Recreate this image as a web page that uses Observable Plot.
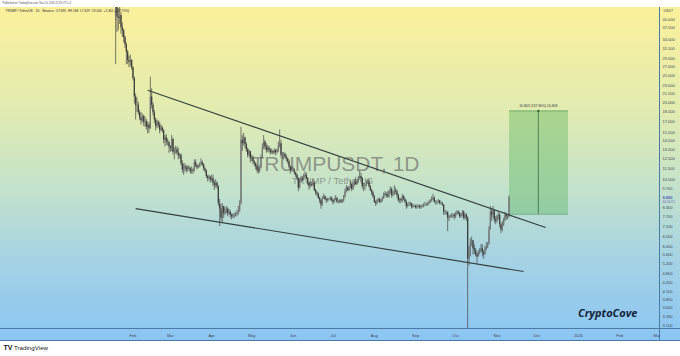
<!DOCTYPE html>
<html><head><meta charset="utf-8">
<script src="https://cdn.jsdelivr.net/npm/d3@7"></script>
<script src="https://cdn.jsdelivr.net/npm/@observablehq/plot@0.6"></script>
<style>
html,body{margin:0;padding:0;background:#fff;}
#chart svg{display:block;}
</style></head><body><div id="chart"></div>
<script>
// Daily TRUMP/USDT candles, first candle 2025-01-19; open = previous close
const startDate = "2025-01-19";
const firstOpen = 40;
const close = [
 52,41,40.5,41.5,37.5,36.5,34.5,32.5,30.5,28.5,28.0,28.5,26.8,
 24.5,21.0,19.5,19.6,18.4,17.6,17.2,17.8,17.0,17.1,16.3,16.6,16.1,21.0,19.6,18.4,17.3,16.4,16.9,16.6,15.9,16.2,15.8,14.6,14.9,14.4,14.3,13.8,
 13.6,14.7,13.2,13.4,13.5,13.1,12.8,12.9,12.0,11.4,11.7,11.6,11.4,11.6,11.5,11.2,11.4,11.3,12.1,11.8,11.6,11.7,11.9,12.1,11.9,11.5,11.3,10.8,10.6,10.7,10.5,
 10.6,10.2,10.0,10.2,9.9,8.6,8.2,7.6,8.4,7.9,8.1,8.2,7.9,8.0,7.8,7.7,7.8,7.8,7.9,7.9,8.1,8.6,14.6,14.2,14.9,14.1,13.5,12.9,13.3,12.5,
 12.6,12.2,12.0,11.7,11.4,11.3,11.6,12.6,13.6,14.4,13.8,13.4,13.7,13.4,13.2,13.3,13.1,13.4,13.2,13.3,13.9,14.2,12.9,12.8,13.0,12.7,12.5,12.2,11.7,11.3,11.5,
 11.4,11.1,10.9,10.6,9.8,10.3,10.6,10.5,10.8,10.9,10.6,10.2,9.9,10.1,10.0,10.2,9.6,9.4,9.3,9.0,8.8,8.5,9.0,9.1,8.9,8.8,8.9,8.9,9.0,8.8,
 8.7,8.9,9.0,8.7,8.7,8.8,8.7,8.8,9.1,9.5,9.8,9.6,9.8,10.1,9.7,10.0,10.3,10.1,10.3,10.6,10.8,10.6,9.9,9.9,10.0,10.2,10.3,9.9,9.6,9.4,9.1,
 8.7,8.6,8.8,8.9,8.7,8.8,9.0,9.2,9.3,9.2,9.1,9.5,9.7,9.2,9.3,9.6,9.5,9.2,8.8,8.9,8.8,9.1,8.9,8.7,8.4,8.5,8.5,8.6,8.3,8.4,8.4,
 8.3,8.4,8.4,8.3,8.4,8.4,8.5,8.5,8.5,8.6,8.7,8.8,8.9,9.0,8.7,8.7,8.7,8.8,8.6,8.6,8.5,8.0,8.0,8.0,7.6,7.7,7.7,7.8,7.8,7.7,
 7.9,8.0,7.9,7.7,7.8,8.0,7.6,7.8,7.6,5.4,5.7,6.2,6.3,5.9,5.8,5.6,5.5,5.7,5.8,5.9,5.7,5.6,5.9,6.0,6.1,6.9,8.0,7.8,8.1,7.5,7.4,
 7.7,7.8,7.2,6.9,7.2,7.5,7.8,7.7,7.695,9.05
];
const high = [
 73.4,55,44,44.5,42.5,39,37,35,33,31,29.5,29.8,28.7,
 27.0,24.8,21.5,20.8,20.1,18.8,18.4,18.2,18.0,17.8,17.4,17.0,16.9,24.8,22.5,20.0,18.8,17.6,17.3,17.2,17.0,16.6,16.4,16.0,15.2,15.3,14.8,14.5,
 14.0,15.2,14.9,13.7,13.9,13.8,13.7,13.1,13.0,12.3,12.0,12.0,11.8,11.8,11.8,11.6,11.7,11.5,12.4,12.4,11.9,11.9,12.1,12.5,12.3,12.0,11.6,11.4,10.9,10.9,10.8,
 10.9,10.9,10.4,10.5,10.3,10.0,8.9,8.5,8.6,8.4,8.3,8.4,8.3,8.2,8.1,7.9,7.9,7.9,8.0,8.1,8.4,8.8,16.3,15.2,15.5,15.0,14.3,13.7,13.5,13.3,
 12.9,12.8,12.3,12.1,11.9,11.6,11.8,12.9,14.2,15.2,14.6,14.2,14.0,13.9,13.6,13.6,13.4,13.6,13.5,13.6,14.4,15.9,14.6,13.2,13.2,13.1,12.9,12.6,12.4,11.8,11.7,
 11.7,11.5,11.2,11.0,10.7,10.5,10.8,10.8,11.0,11.2,11.1,10.7,10.3,10.3,10.3,10.5,10.3,9.7,9.5,9.4,9.1,8.9,9.1,9.3,9.2,9.0,9.0,9.0,9.1,9.1,
 8.9,9.0,9.2,9.0,8.8,8.9,8.9,8.9,9.2,9.7,10.0,9.9,9.9,10.4,10.2,10.2,10.5,10.7,10.5,10.8,11.3,11.1,10.7,10.2,10.1,10.4,10.5,10.5,10.0,9.7,9.5,
 9.2,8.8,8.9,9.0,9.0,8.9,9.1,9.4,9.5,9.4,9.5,9.6,9.9,9.8,9.5,10.0,9.8,9.6,9.3,9.0,9.0,9.3,9.2,9.0,8.8,8.6,8.7,8.7,8.6,8.5,8.5,
 8.5,8.5,8.5,8.5,8.5,8.5,8.6,8.7,8.6,8.7,8.8,8.9,9.1,9.3,9.1,8.8,8.8,8.9,8.8,8.7,8.7,8.5,8.1,8.1,8.0,7.8,7.8,7.9,7.9,7.9,
 8.0,8.1,8.1,8.0,7.9,8.1,8.1,7.9,7.9,7.7,6.0,6.4,6.5,6.3,6.1,5.9,5.7,5.8,5.9,6.1,6.1,5.8,6.0,6.2,6.2,7.1,8.4,8.2,8.4,8.1,7.7,
 7.8,8.0,7.9,7.3,7.4,7.6,8.0,7.9,7.8,9.168
];
const low = [
 27.5,36,36.5,38.5,35.5,34.5,33,31.5,27.5,27.5,26.8,27.0,26.2,
 24.0,19.8,17.3,18.4,18.0,17.2,16.6,16.9,16.4,16.3,15.9,15.4,15.5,16.0,19.0,17.9,16.8,15.8,16.1,16.2,15.4,15.7,15.5,14.2,13.8,14.0,13.9,13.1,
 13.2,13.3,12.9,12.4,13.0,12.9,12.4,12.5,11.8,11.1,10.9,11.2,11.1,11.2,11.3,11.0,11.0,11.0,11.2,11.6,11.4,11.5,11.6,11.8,11.7,11.3,11.1,10.6,10.3,10.4,10.2,
 10.3,9.9,9.6,9.8,9.7,8.4,7.1,7.4,7.3,7.6,7.8,7.9,7.7,7.8,7.6,7.5,7.6,7.6,7.7,7.7,7.8,8.0,8.5,13.3,13.9,13.6,13.2,12.6,12.7,12.1,
 12.2,11.9,11.7,11.4,11.1,11.0,11.1,11.5,12.5,13.5,13.5,13.1,13.2,13.1,12.9,13.0,12.9,13.0,12.8,13.0,13.2,13.7,12.6,12.5,12.4,12.5,12.2,12.0,11.5,11.0,11.2,
 11.2,10.9,10.7,10.4,9.5,9.7,10.2,10.3,10.4,10.6,10.5,10.0,9.6,9.8,9.9,9.9,9.5,9.2,9.1,8.9,8.6,8.2,8.4,8.9,8.8,8.6,8.7,8.8,8.8,8.7,
 8.5,8.6,8.8,8.6,8.6,8.6,8.6,8.6,8.7,9.0,9.4,9.5,9.5,9.7,9.5,9.6,9.9,10.0,10.0,10.2,10.5,10.3,9.7,9.5,9.6,9.9,10.1,9.8,9.5,9.2,9.0,
 8.6,8.4,8.5,8.7,8.6,8.6,8.7,8.9,9.1,9.0,9.0,9.0,9.3,9.0,9.1,9.2,9.3,9.0,8.7,8.6,8.6,8.7,8.8,8.6,8.2,8.3,8.4,8.4,8.2,8.3,8.3,
 8.2,8.2,8.3,8.2,8.2,8.3,8.3,8.4,8.4,8.4,8.5,8.6,8.7,8.8,8.6,8.5,8.5,8.6,8.5,8.5,8.4,7.8,7.8,7.8,6.8,7.4,7.6,7.6,7.6,7.5,
 7.6,7.8,7.8,7.6,7.6,7.7,7.5,7.5,7.4,2.5,5.1,5.5,6.0,5.6,5.6,5.5,5.2,5.5,5.6,5.7,5.5,5.4,5.6,5.8,5.9,6.1,6.9,7.4,7.6,7.3,7.2,
 7.3,7.5,7.0,6.7,6.8,7.1,7.4,7.5,7.5,7.629
];

const monthTicks = ["2025-02-01","2025-03-01","2025-04-01","2025-05-01","2025-06-01","2025-07-01","2025-08-01","2025-09-01","2025-10-01","2025-11-01","2025-12-01","2026-01-01","2026-02-01","2026-03-01"];
const monthLabels = ["Feb","Mar","Apr","May","Jun","Jul","Aug","Sep","Oct","Nov","Dec","2026","Feb","Mar"];
const priceTicks = [40,37.5,34,31.5,29,27,25,23,21.5,20,18.5,17,15.5,14.5,13.5,12.5,11.5,10.5,9.7,8.3,7.7,7.1,6.5,6.0,5.6,5.2,4.8,4.45,4.1,3.85,3.6,3.34,3.1];
const lastPrice = 9.05;
const countdown = "04:00:51";

const upperTrend = {x1:"2025-02-12T00:00Z", y1:22.2, x2:"2025-12-07T12:00Z", y2:7.04};
const lowerTrend = {x1:"2025-02-03T00:00Z", y1:8.25, x2:"2025-11-21T00:00Z", y2:4.87};
const target = {x1:"2025-11-10T10:00Z", x2:"2025-12-24T15:00Z", mid:"2025-12-02T00:00Z", y1:7.868, y2:18.671, label:"10.803 (137.30%) 10,803"};

const legendText = "TRUMP / TetherUS · 1D · Binance  O7.695  H9.168  L7.629  C9.050  +1.361 (+17.70%)";
const headerText = "Published on TradingView.com, Nov 10, 2025 22:59 UTC+3";
const watermark = ["TRUMPUSDT, 1D", "TRUMP / TetherUS"];
const author = "CryptoCove";

// ---- build ----
const t0 = Date.parse(startDate);
const candles = close.map((c, i) => {
  const o = i ? close[i - 1] : firstOpen;
  return {date: new Date(t0 + i * 864e5), open: o, close: c,
          high: Math.max(high[i], o, c), low: Math.min(low[i], o, c)};
});
const D = s => new Date(s);
const labelByTime = new Map(monthTicks.map((s, i) => [+D(s), monthLabels[i]]));
const font = "'Liberation Sans', Arial, sans-serif";

const chart = Plot.plot({
  width: 680, height: 356,
  marginLeft: 0, marginRight: 22, marginTop: 7, marginBottom: 28,
  style: {fontSize: "4px", fontFamily: font, color: "#3b4756", overflow: "visible"},
  color: {type: "identity"},
  x: {type: "utc", domain: [D("2024-10-24T15:00Z"), D("2026-03-02T03:00Z")],
      ticks: monthTicks.map(D), tickFormat: d => labelByTime.get(+d) ?? "",
      tickSize: 0, tickPadding: 6, label: null},
  y: {type: "log", domain: [3.024, 44.38], ticks: priceTicks, tickFormat: d3.format(".3f"),
      axis: "right", tickSize: 0, tickPadding: 4, label: null},
  marks: [
    // measurement box
    Plot.rect([target], {x1: d => D(d.x1), x2: d => D(d.x2), y1: "y1", y2: "y2", fill: "#4caf50", fillOpacity: 0.36}),
    Plot.ruleY([target], {x1: d => D(d.x1), x2: d => D(d.x2), y: "y1", stroke: "#4f8f52", strokeWidth: 0.6}),
    Plot.ruleY([target], {x1: d => D(d.x1), x2: d => D(d.x2), y: "y2", stroke: "#4f8f52", strokeWidth: 0.6}),
    Plot.ruleX([target], {x: d => D(d.mid), y1: "y1", y2: "y2", stroke: "#2f5f36", strokeWidth: 0.7}),
    Plot.dot([target], {x: d => D(d.mid), y: "y2", symbol: "triangle", r: 1.1, fill: "#2f5f36", stroke: "none"}),
    Plot.text([target], {x: d => D(d.mid), y: "y2", text: "label", dy: -5, fontSize: 3.4, fill: "#2a3340"}),
    // watermark
    Plot.text([watermark[0]], {frameAnchor: "middle", dx: 6, dy: -4, fontSize: 21, fill: "#5e5e5e", fillOpacity: 0.6, fontFamily: font}),
    Plot.text([watermark[1]], {frameAnchor: "middle", dx: 3, dy: 13, fontSize: 9.5, fill: "#5e5e5e", fillOpacity: 0.6, fontFamily: font}),
    // candles
    Plot.ruleX(candles, {x: "date", y1: "low", y2: "high", stroke: "#444444", strokeWidth: 0.7, clip: true}),
    Plot.ruleX(candles, {x: "date", y1: "open", y2: "close", stroke: d => d.close >= d.open ? "#767676" : "#3a3a3a", strokeWidth: 1.2, clip: true}),
    // trendlines
    Plot.link([upperTrend, lowerTrend], {x1: d => D(d.x1), y1: "y1", x2: d => D(d.x2), y2: "y2", stroke: "#33403f", strokeWidth: 1.15}),
    // texts
    Plot.text([legendText], {frameAnchor: "top-left", dx: 5, dy: 2, lineAnchor: "top", textAnchor: "start", fontSize: 3.2, fill: "#1d2733"}),
    Plot.text([headerText], {frameAnchor: "top-left", dx: 2, dy: -5, lineAnchor: "top", textAnchor: "start", fontSize: 2.6, fill: "#555"}),
    Plot.text(["USDT"], {frameAnchor: "top-right", dx: 5, dy: 1.5, lineAnchor: "top", textAnchor: "start", fontSize: 3.6, fill: "#3b4756"}),
    Plot.text([lastPrice], {y: d => d, frameAnchor: "right", dx: 4, textAnchor: "start", text: d => d3.format(".3f")(d), fontSize: 4, fill: "#4b4fb8", fontWeight: "bold"}),
    Plot.text([lastPrice], {y: d => d, frameAnchor: "right", dx: 4, dy: 4.5, textAnchor: "start", text: () => countdown, fontSize: 3.2, fill: "#6f62b8"}),
    Plot.text([author], {frameAnchor: "bottom-right", dx: -21, dy: -12, textAnchor: "end", fontSize: 11, fontWeight: "bold", fontStyle: "italic", fill: "#13233a", fontFamily: "'Open Sans', sans-serif"}),
    Plot.text(["TV"], {frameAnchor: "bottom-left", dx: 3, dy: 21, textAnchor: "start", fontSize: 7, fontWeight: "bold", fill: "#131722"}),
    Plot.text(["TradingView"], {frameAnchor: "bottom-left", dx: 13.5, dy: 21, textAnchor: "start", fontSize: 6.2, fill: "#131722"})
  ]
});
chart.style.background =
  "linear-gradient(#4a7aa6,#4a7aa6) 0 328px/100% 1px no-repeat," +
  "linear-gradient(#4a7aa6,#4a7aa6) 658.5px 7px/1px 334px no-repeat," +
  "linear-gradient(#4a7aa6,#4a7aa6) 0 340px/100% 1px no-repeat," +
  "linear-gradient(180deg,#fbf09b 0%,#e3ecb0 30%,#c3e2cc 55%,#a6d3e4 75%,#8bc5f3 100%) 0 7px/100% 334px no-repeat," +
  "#ffffff";
document.getElementById("chart").appendChild(chart);
</script></body></html>
